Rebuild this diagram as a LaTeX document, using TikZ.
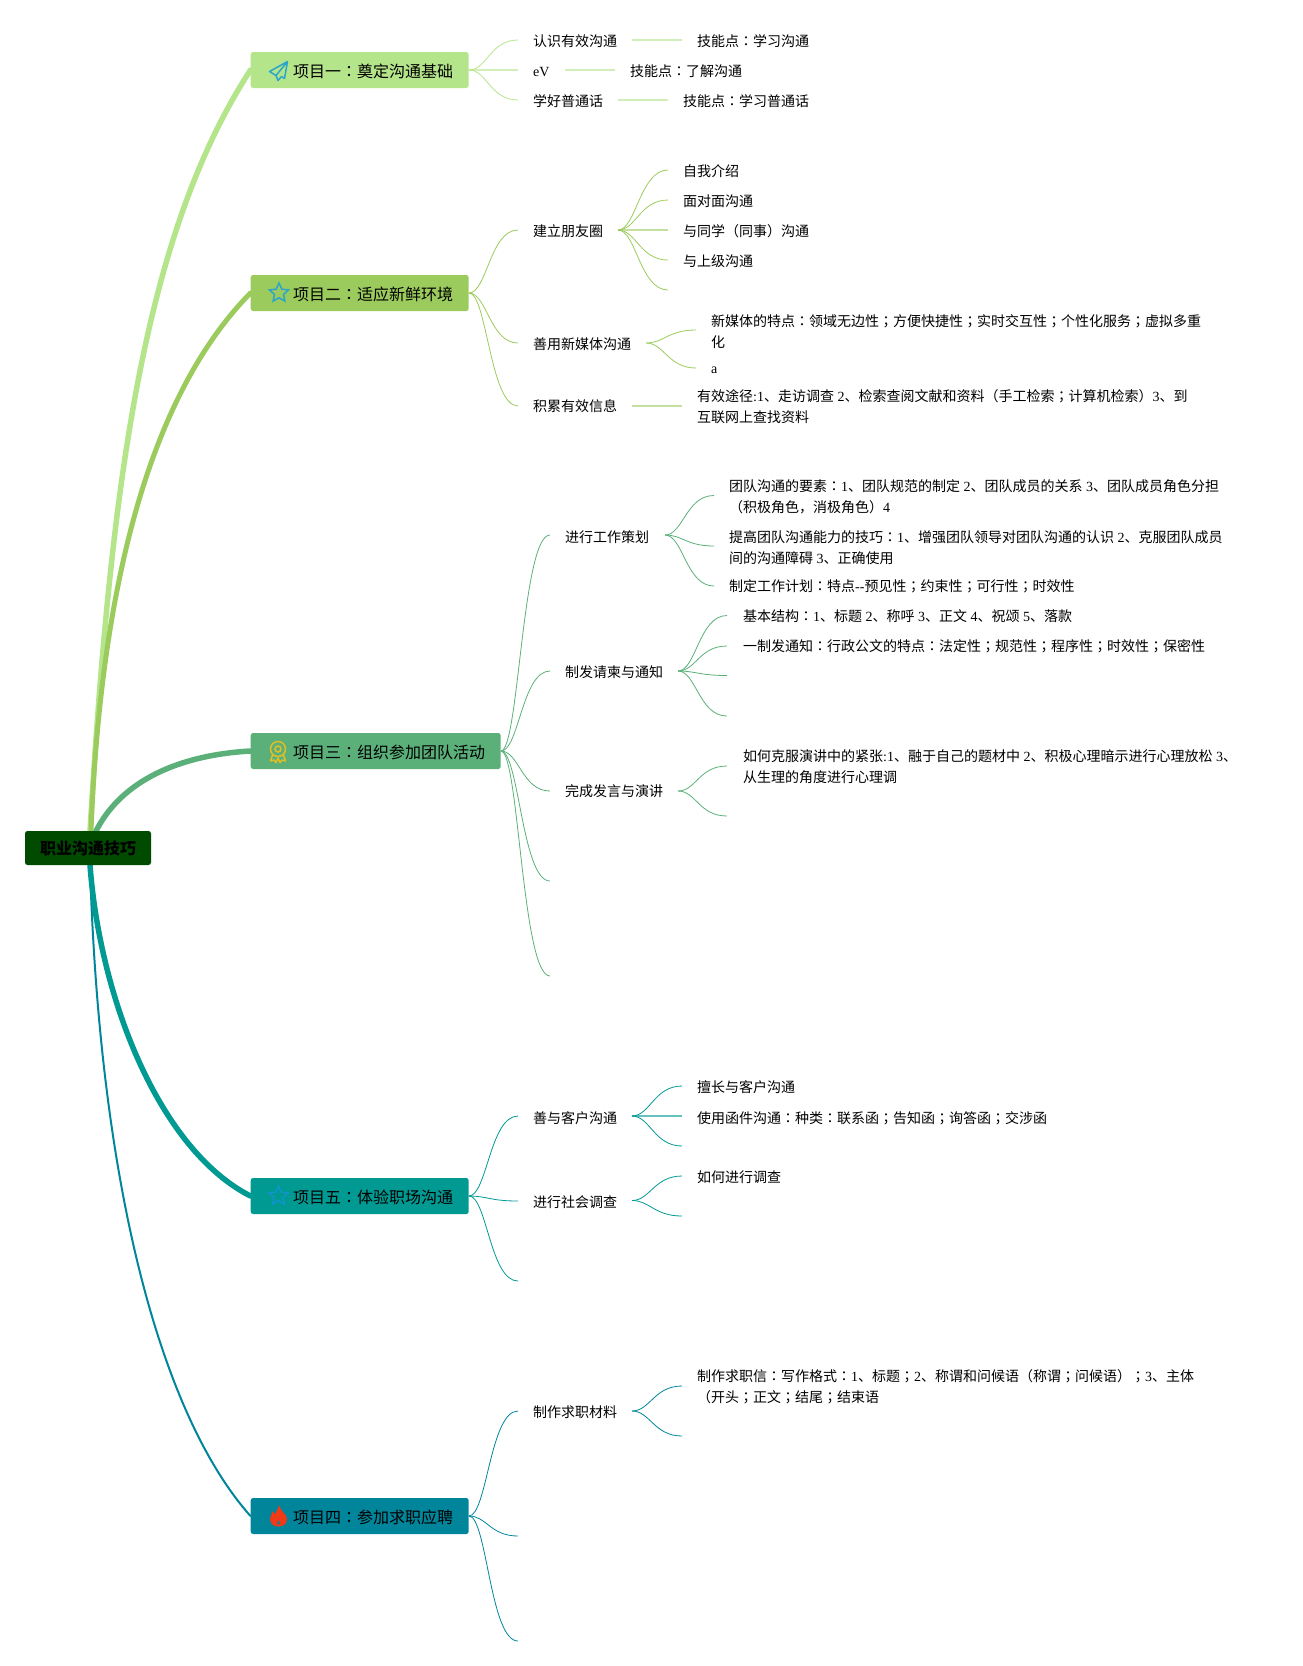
\documentclass[tikz,border=0pt]{standalone}
\usepackage{fontspec}
\usetikzlibrary{backgrounds,shapes.geometric}
\setmainfont{Noto Sans CJK SC}
\newfontfamily\tcf{Noto Sans CJK TC}
\newfontfamily\latf{Liberation Serif}
\newcommand\nn[1]{{\latf #1}}
\newcommand\kc{{\tcf ：}}
\newcommand\kf{{\tcf ；}}
\newcommand\twol[2]{\vtop{\baselineskip=20.5pt\hbox{#1}\hbox{#2}}}
\definecolor{cA}{HTML}{B5E58B}
\definecolor{cB}{HTML}{9CCB5D}
\definecolor{cC}{HTML}{5BB07A}
\definecolor{cD}{HTML}{009A93}
\definecolor{cE}{HTML}{00859B}
\definecolor{cR}{HTML}{004B00}
\definecolor{icoA}{HTML}{2CA5C9}
\definecolor{icoM}{HTML}{E0BE25}
\definecolor{icoS}{HTML}{1293CC}
\definecolor{icoF}{HTML}{F03A17}
\tikzset{
  x=1pt,y=-1pt,
  topbox/.style={rounded corners=2.5pt,inner sep=0,minimum height=36pt,anchor=west,text height=14pt,text depth=0pt,font=\fontsize{16pt}{18pt}\selectfont},
  rootbox/.style={rounded corners=2.5pt,inner sep=0,minimum height=34pt,minimum width=126pt,fill=cR,font=\fontsize{16pt}{18pt}\selectfont\bfseries},
  txt/.style={inner sep=0,anchor=base west,yshift=-0.5pt,font=\fontsize{14pt}{20.5pt}\selectfont},
  trunk/.style={line cap=round},
  sl/.style={out=0,in=180,out distance=18pt,in distance=28pt},
  lnk/.style={line width=0.8pt},
  flat/.style={line width=1.6pt,opacity=.6},
  starico/.style={star,star points=5,star point ratio=2.1,draw,line width=1.5pt,inner sep=0,minimum size=20pt},
}
\begin{document}
\begin{tikzpicture}
\useasboundingbox (0,0) rectangle (1303,1666);
% root and project boxes
\node[rootbox] (root) at (88,848) {职业沟通技巧};
\node[topbox,fill=cA] (p1) at (250.5,70) {\makebox[218pt][l]{\hspace*{42.5pt}项目一\kc{}奠定沟通基础}};
\node[topbox,fill=cB] (p2) at (250.5,293) {\makebox[218pt][l]{\hspace*{42.5pt}项目二\kc{}适应新鲜环境}};
\node[topbox,fill=cC] (p3) at (250.5,751) {\makebox[250pt][l]{\hspace*{42.5pt}项目三\kc{}组织参加团队活动}};
\node[topbox,fill=cD] (p5) at (250.5,1196) {\makebox[218pt][l]{\hspace*{42.5pt}项目五\kc{}体验职场沟通}};
\node[topbox,fill=cE] (p4) at (250.5,1516) {\makebox[218pt][l]{\hspace*{42.5pt}项目四\kc{}参加求职应聘}};
% icons
\draw[icoA,line width=1.5pt,line join=round] (287.5,61.5) -- (269.5,71.5) -- (276,75.5) -- (278,80.5) -- (281.5,76.5) -- (284.5,78.5) -- cycle (287.5,61.5) -- (276,75.5);
\node[starico,draw=icoA] (ic2) at (279,293) {};
\draw[icoM,line width=1.5pt] (278,749) circle (7.5) (278,749) circle (3);
\draw[icoM,line width=1.5pt,line join=round] (272.5,755) -- (270.5,761) -- (274,760) -- (276,762.5) -- (278,758) -- (280,762.5) -- (282,760) -- (285.5,761) -- (283.5,755);
\node[starico,draw=icoS] (ic5) at (278.5,1196) {};
\fill[icoF,even odd rule] (279,1505) .. controls (280,1511) and (287,1514) .. (287,1519) .. controls (287,1524) and (283,1526.5) .. (278.5,1526.5) .. controls (274,1526.5) and (270,1524) .. (270,1519) .. controls (270,1516) and (272,1514) .. (273,1511) .. controls (274,1513) and (274.5,1514) .. (275,1514) .. controls (276,1512) and (278,1509) .. (279,1505)
 (278.5,1520) .. controls (279,1521) and (280,1522) .. (279.8,1524) .. controls (279.5,1525) and (277.5,1525) .. (277.2,1524) .. controls (277,1522) and (278,1521) .. (278.5,1520);
% texts: project 1
\node[txt] (a1) at (533,46) {认识有效沟通};
\node[txt] (a1x) at (697,46) {技能点\kc{}学习沟通};
\node[txt] (a2) at (533,76) {\nn{eV}};
\node[txt] (a2x) at (630,76) {技能点\kc{}了解沟通};
\node[txt] (a3) at (533,106) {学好普通话};
\node[txt] (a3x) at (683,106) {技能点\kc{}学习普通话};
% project 2
\node[txt] (b1) at (533,236) {建立朋友圈};
\node[txt] (b11) at (683,176) {自我介绍};
\node[txt] (b12) at (683,206) {面对面沟通};
\node[txt] (b13) at (683,236) {与同学（同事）沟通};
\node[txt] (b14) at (683,266) {与上级沟通};
\node[txt] (b2) at (533,349) {善用新媒体沟通};
\node[txt] (b21) at (711,326) {\twol{新媒体的特点\kc{}领域无边性\kf{}方便快捷性\kf{}实时交互性\kf{}个性化服务\kf{}虚拟多重}{化}};
\node[txt] (b22) at (711,373) {\nn{a}};
\node[txt] (b3) at (533,411) {积累有效信息};
\node[txt] (b31) at (697,401) {\twol{有效途径\nn{:1}、走访调查\nn{ 2}、检索查阅文献和资料（手工检索\kf{}计算机检索）\nn{3}、到}{互联网上查找资料}};
% project 3
\node[txt] (c1) at (565,542) {进行工作策划};
\node[txt] (c11) at (729,491) {\twol{团队沟通的要素\kc{}\nn{1}、团队规范的制定\nn{ 2}、团队成员的关系\nn{ 3}、团队成员角色分担}{（积极角色，消极角色）\nn{4}}};
\node[txt] (c12) at (729,542) {\twol{提高团队沟通能力的技巧\kc{}\nn{1}、增强团队领导对团队沟通的认识\nn{ 2}、克服团队成员}{间的沟通障碍\nn{ 3}、正确使用}};
\node[txt] (c13) at (729,591) {制定工作计划\kc{}特点\nn{--}预见性\kf{}约束性\kf{}可行性\kf{}时效性};
\node[txt] (c2) at (565,676.5) {制发请柬与通知};
\node[txt] (c21) at (743,621) {基本结构\kc{}\nn{1}、标题\nn{ 2}、称呼\nn{ 3}、正文\nn{ 4}、祝颂\nn{ 5}、落款};
\node[txt] (c22) at (743,651) {一制发通知\kc{}行政公文的特点\kc{}法定性\kf{}规范性\kf{}程序性\kf{}时效性\kf{}保密性};
\node[txt] (c3) at (565,796) {完成发言与演讲};
\node[txt] (c31) at (743,761) {\twol{如何克服演讲中的紧张\nn{:1}、融于自己的题材中\nn{ 2}、积极心理暗示进行心理放松\nn{ 3}、}{从生理的角度进行心理调}};
% project 5
\node[txt] (d1) at (533,1122.5) {善与客户沟通};
\node[txt] (d11) at (697,1092) {擅长与客户沟通};
\node[txt] (d12) at (697,1122.5) {使用函件沟通\kc{}种类\kc{}联系函\kf{}告知函\kf{}询答函\kf{}交涉函};
\node[txt] (d2) at (533,1207) {进行社会调查};
\node[txt] (d21) at (697,1182) {如何进行调查};
% project 4
\node[txt] (e1) at (533,1417) {制作求职材料};
\node[txt] (e11) at (697,1381) {\twol{制作求职信\kc{}写作格式\kc{}\nn{1}、标题\kf{}\nn{2}、称谓和问候语（称谓\kf{}问候语）\kf{}\nn{3}、主体}{（开头\kf{}正文\kf{}结尾\kf{}结束语}};
% connector end points
\coordinate (ra) at (90,831); \coordinate (rb) at (91,831); \coordinate (rc) at (96,831);
\coordinate (rd) at (90,865); \coordinate (re) at (90,865);
\coordinate (a1i) at (518,40); \coordinate (a2i) at (518,70); \coordinate (a3i) at (518,100);
\coordinate (a1o) at (632,40); \coordinate (a1e) at (682,40);
\coordinate (a2o) at (565,70); \coordinate (a2e) at (615,70);
\coordinate (a3o) at (617.5,100); \coordinate (a3e) at (668,100);
\coordinate (b1i) at (518,230); \coordinate (b2i) at (518,343); \coordinate (b3i) at (518,406);
\coordinate (b1o) at (618,230); \coordinate (b2o) at (646,343); \coordinate (b3o) at (632,406); \coordinate (b3e) at (682,406);
\coordinate (b1a) at (668,170); \coordinate (b1b) at (668,200); \coordinate (b1c) at (668,230); \coordinate (b1d) at (668,260); \coordinate (b1f) at (668,290);
\coordinate (b2a) at (696,330); \coordinate (b2b) at (696,368);
\coordinate (c1i) at (550,535); \coordinate (c2i) at (550,671); \coordinate (c3i) at (550,791); \coordinate (c4i) at (550,881); \coordinate (c5i) at (550,976);
\coordinate (c1o) at (665,535); \coordinate (c1a) at (714,495.5); \coordinate (c1b) at (714,546); \coordinate (c1c) at (714,586);
\coordinate (c2o) at (678,671); \coordinate (c2a) at (727,615.5); \coordinate (c2b) at (727,646); \coordinate (c2c) at (727,675.5); \coordinate (c2d) at (727,716);
\coordinate (c3o) at (678,791); \coordinate (c3a) at (727,766); \coordinate (c3b) at (727,816);
\coordinate (d1i) at (518,1116); \coordinate (d2i) at (518,1201); \coordinate (d3i) at (518,1281);
\coordinate (d1o) at (632,1116); \coordinate (d1a) at (682,1086); \coordinate (d1b) at (682,1116); \coordinate (d1c) at (682,1146);
\coordinate (d2o) at (632,1200.5); \coordinate (d2a) at (682,1176); \coordinate (d2b) at (682,1216);
\coordinate (e1i) at (518,1411); \coordinate (e2i) at (518,1536); \coordinate (e3i) at (518,1641);
\coordinate (e1o) at (632,1411); \coordinate (e1a) at (682,1386); \coordinate (e1b) at (682,1436);
\begin{scope}[on background layer]
% trunks
\draw[trunk,cA,line width=5.5pt] (ra) .. controls (110,500) and (140,240) .. (p1.west);
\draw[trunk,cB,line width=5pt] (rb) .. controls (100,600) and (145,400) .. (p2.west);
\draw[trunk,cC,line width=5.5pt] (rc) .. controls (122,780) and (180,755) .. (p3.west);
\draw[trunk,cE,line width=2pt] (re) .. controls (100,1200) and (165,1420) .. (p4.west);
\draw[trunk,cD,line width=5.5pt] (rd) .. controls (100,1000) and (160,1150) .. (p5.west);
% project 1
\draw[lnk,cA] (p1.east) to[sl] (a1i);
\draw[flat,cA] (p1.east) -- (a2i);
\draw[lnk,cA] (p1.east) to[sl] (a3i);
\draw[flat,cA] (a1o) -- (a1e);
\draw[flat,cA] (a2o) -- (a2e);
\draw[flat,cA] (a3o) -- (a3e);
% project 2
\foreach \t in {b1i,b2i,b3i} \draw[lnk,cB] (p2.east) to[sl] (\t);
\foreach \t in {b1a,b1b,b1d,b1f} \draw[lnk,cB] (b1o) to[sl] (\t);
\draw[flat,cB] (b1o) -- (b1c);
\foreach \t in {b2a,b2b} \draw[lnk,cB] (b2o) to[sl] (\t);
\draw[flat,cB] (b3o) -- (b3e);
% project 3
\foreach \t in {c1i,c2i,c3i,c4i,c5i} \draw[lnk,cC] (p3.east) to[sl] (\t);
\foreach \t in {c1a,c1b,c1c} \draw[lnk,cC] (c1o) to[sl] (\t);
\foreach \t in {c2a,c2b,c2c,c2d} \draw[lnk,cC] (c2o) to[sl] (\t);
\foreach \t in {c3a,c3b} \draw[lnk,cC] (c3o) to[sl] (\t);
% project 5
\foreach \t in {d1i,d2i,d3i} \draw[lnk,cD] (p5.east) to[sl] (\t);
\foreach \t in {d1a,d1c} \draw[lnk,cD] (d1o) to[sl] (\t);
\draw[flat,cD] (d1o) -- (d1b);
\foreach \t in {d2a,d2b} \draw[lnk,cD] (d2o) to[sl] (\t);
% project 4
\foreach \t in {e1i,e2i,e3i} \draw[lnk,cE] (p4.east) to[sl] (\t);
\foreach \t in {e1a,e1b} \draw[lnk,cE] (e1o) to[sl] (\t);
\end{scope}
\end{tikzpicture}
\end{document}
